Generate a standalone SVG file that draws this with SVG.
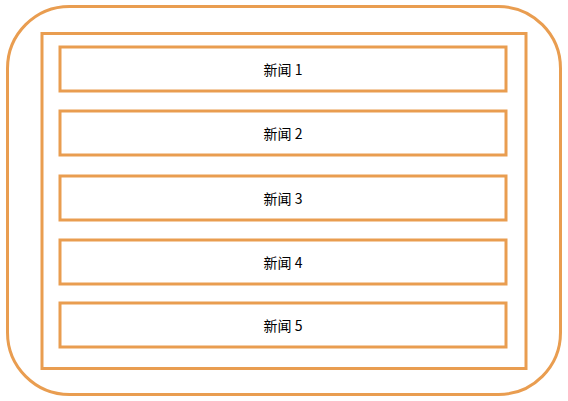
<svg xmlns="http://www.w3.org/2000/svg" width="568" height="401" viewBox="0 0 568 401">
<style>
.b{fill:none;stroke:#E99D50;stroke-width:3}
.t{font-family:"Noto Sans CJK SC","Liberation Sans",sans-serif;font-size:14px;fill:#000;text-anchor:middle}
</style>
<rect width="568" height="401" fill="#fff"/>
<g id="outer"><rect class="b" x="7.5" y="6.5" width="553" height="388" rx="62" ry="62"/></g>
<g id="container"><rect class="b" x="42" y="33.5" width="484" height="335"/></g>
<g id="n1"><rect class="b" x="60" y="47" width="446" height="44"/><text class="t" x="283" y="74.5">新闻 1</text></g>
<g id="n2"><rect class="b" x="60" y="111" width="446" height="44"/><text class="t" x="283" y="138.5">新闻 2</text></g>
<g id="n3"><rect class="b" x="60" y="176" width="446" height="44"/><text class="t" x="283" y="203.5">新闻 3</text></g>
<g id="n4"><rect class="b" x="60" y="240" width="446" height="44"/><text class="t" x="283" y="267.5">新闻 4</text></g>
<g id="n5"><rect class="b" x="60" y="303" width="446" height="44"/><text class="t" x="283" y="330.5">新闻 5</text></g>
<g id="connectors"></g>
</svg>
